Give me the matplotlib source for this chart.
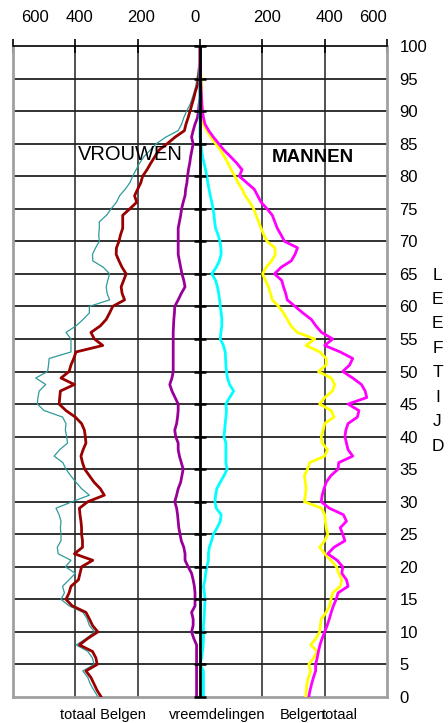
import numpy as np
import matplotlib
matplotlib.use("Agg")
import matplotlib.pyplot as plt
import matplotlib.transforms as mtransforms

plt.rcParams["font.family"] = ["Liberation Sans", "DejaVu Sans"]

# leeftijd 0..100
ages = np.arange(0, 101)

# vrouwen (negatief = links)
women_total = [
    -327, -340, -352, -360, -376, -340, -345, -360, -397, -365,
    -338, -355, -362, -375, -420, -446, -435, -441, -420, -400,
    -432, -414, -455, -458, -446, -446, -448, -446, -452, -462,
    -410, -355, -380, -398, -415, -430, -440, -468, -450, -425,
    -428, -432, -430, -441, -500, -522, -520, -516, -495, -527,
    -489, -486, -484, -414, -414, -414, -430, -398, -375, -355,
    -355, -290, -298, -301, -296, -290, -310, -344, -345, -335,
    -323, -325, -323, -323, -300, -285, -268, -258, -240, -225,
    -216, -205, -194, -180, -160, -140, -110, -70, -59, -52,
    -43, -32, -25, -18, -13, -10, -6, -3, 0, 0, 0]
women_belg = [
    -317, -330, -340, -350, -366, -330, -334, -345, -387, -360,
    -328, -345, -355, -366, -410, -430, -420, -414, -390, -385,
    -380, -344, -403, -377, -377, -380, -380, -382, -385, -387,
    -360, -307, -320, -340, -355, -370, -377, -382, -375, -366,
    -368, -371, -380, -400, -430, -452, -450, -448, -403, -446,
    -420, -414, -405, -398, -312, -339, -350, -320, -301, -290,
    -280, -242, -250, -253, -245, -237, -250, -260, -269, -268,
    -260, -255, -248, -248, -248, -225, -203, -210, -200, -190,
    -184, -170, -158, -145, -132, -105, -80, -50, -45, -38,
    -32, -26, -20, -15, -8, -5, -3, -2, 0, 0, 0]
women_foreign = [
    -11, -11, -11, -11, -11, -11, -11, -11, -11, -20,
    -27, -22, -22, -27, -16, -16, -16, -18, -22, -27,
    -38, -48, -48, -52, -60, -64, -68, -70, -72, -75,
    -81, -75, -70, -62, -58, -54, -60, -66, -70, -70,
    -78, -81, -75, -72, -70, -70, -80, -90, -97, -90,
    -86, -86, -86, -86, -86, -86, -86, -85, -84, -82,
    -81, -70, -60, -48, -52, -58, -62, -66, -70, -70,
    -70, -70, -70, -66, -62, -59, -54, -48, -46, -42,
    -40, -37, -33, -30, -26, -22, -27, -22, -16, -8,
    -5, -3, 0, 0, 0, 0, 0, 0, 0, 0, 0]

# mannen (positief = rechts)
men_foreign = [
    11, 11, 11, 11, 11, 0, 5, 8, 10, 11,
    11, 11, 13, 14, 15, 16, 14, 11, 16, 18,
    22, 27, 27, 30, 37, 43, 55, 65, 68, 52,
    48, 50, 54, 65, 77, 87, 83, 83, 83, 83,
    77, 79, 81, 83, 85, 83, 95, 108, 95, 88,
    85, 83, 82, 81, 75, 65, 67, 70, 70, 68,
    65, 63, 60, 56, 50, 38, 52, 62, 68, 67,
    64, 58, 50, 47, 45, 42, 38, 33, 29, 25,
    22, 18, 13, 8, 5, 3, 0, 0, 0, 0,
    0, 0, 0, 0, 0, 0, 0, 0, 0, 0, 0]
men_belg = [
    339, 341, 343, 348, 355, 349, 365, 376, 355, 372,
    384, 386, 389, 405, 416, 420, 426, 450, 455, 445,
    438, 420, 400, 384, 400, 410, 405, 402, 400, 390,
    335, 338, 340, 338, 335, 345, 352, 400, 409, 392,
    389, 395, 400, 430, 421, 384, 400, 425, 432, 421,
    380, 405, 405, 385, 340, 368, 312, 292, 280, 268,
    252, 232, 226, 220, 210, 201, 212, 230, 242, 240,
    215, 205, 196, 188, 180, 172, 160, 145, 135, 122,
    112, 100, 90, 78, 66, 50, 35, 22, 11, 9,
    8, 7, 6, 5, 5, 4, 2, 0, 0, 0, 0]
men_total = [
    349, 353, 358, 364, 371, 371, 376, 380, 385, 392,
    400, 408, 415, 421, 428, 437, 443, 475, 470, 455,
    458, 440, 410, 430, 465, 458, 450, 470, 460, 415,
    389, 392, 398, 405, 420, 443, 445, 490, 475, 470,
    465, 468, 475, 505, 510, 475, 535, 530, 518, 490,
    458, 480, 490, 450, 400, 426, 390, 372, 357, 330,
    305, 280, 275, 268, 262, 239, 260, 293, 305, 313,
    271, 260, 248, 240, 232, 215, 196, 185, 174, 150,
    126, 135, 118, 98, 77, 60, 43, 28, 16, 11,
    8, 6, 5, 4, 3, 2, 1, 0, 0, 0, 0]

x_ticks = [-600, -400, -200, 0, 200, 400, 600]
x_label_pos = [-531, -387, -190, -16, 216, 416, 555]
y_ticks = list(range(0, 101, 5))

fig = plt.figure(figsize=(4.48, 7.23), dpi=100)
ax = fig.add_axes([13 / 448, 26 / 723, 374 / 448, 651 / 723])
ax.set_xlim(-600, 600)
ax.set_ylim(0, 100)

# raster
for y in y_ticks[1:-1]:
    ax.axhline(y, color="#222222", lw=1.3, zorder=1)
for x in [-400, -200, 200, 400]:
    ax.axvline(x, color="#222222", lw=1.1, zorder=1)

ax.plot(women_total, ages, color="#2E9A9A", lw=0.9, zorder=3)
ax.plot(women_belg, ages, color="#990000", lw=2, zorder=3)
ax.plot(women_foreign, ages, color="#990099", lw=2, zorder=3)
ax.plot(men_foreign, ages, color="#00FFFF", lw=2, zorder=3)
ax.plot(men_belg, ages, color="#FFFF00", lw=2, zorder=3)
ax.plot(men_total, ages, color="#FF00FF", lw=2, zorder=3)

# middenas met streepjes
ax.axvline(0, color="black", lw=2, zorder=4)
ax.plot([0] * len(y_ticks), y_ticks, ls="none", marker="_", ms=8, mew=1.8,
        color="black", zorder=4, clip_on=False)

for side in ["left", "right", "bottom"]:
    ax.spines[side].set_color("#A0A0A0")
    ax.spines[side].set_linewidth(2)
ax.spines["top"].set_color("black")
ax.spines["top"].set_linewidth(1.2)

ax.xaxis.tick_top()
ax.set_xticks(x_ticks)
ax.set_xticklabels([])
ax.tick_params(axis="x", direction="inout", length=10, width=1.2, color="black")
ax.yaxis.tick_right()
ax.set_yticks(y_ticks)
ax.tick_params(axis="y", length=0, pad=9, labelsize=12)

trans_top = mtransforms.blended_transform_factory(ax.transData, ax.transAxes)
for xp, v in zip(x_label_pos, x_ticks):
    ax.text(xp, 1.044, str(abs(v)), transform=trans_top, ha="center", va="center",
            fontsize=12)

ax.text(-225, 83.3, "VROUWEN", ha="center", va="center", fontsize=14.5)
ax.text(363, 82.8, "MANNEN", ha="center", va="center", fontsize=13.5,
        fontweight="bold")

trans_right = mtransforms.blended_transform_factory(ax.transAxes, ax.transData)
for i, ch in enumerate("LEEFTIJD"):
    ax.text(1.135, 64.8 - i * 3.75, ch, transform=trans_right, ha="center",
            va="center", fontsize=12.5, clip_on=False)

for xp, txt in [(-310, "totaal Belgen"), (55, "vreemdelingen"),
                (328, "Belgen"), (450, "totaal")]:
    ax.text(xp, -0.028, txt, transform=trans_top, ha="center", va="center",
            fontsize=10.5)

fig.savefig("out.png", dpi=100, facecolor="white")
